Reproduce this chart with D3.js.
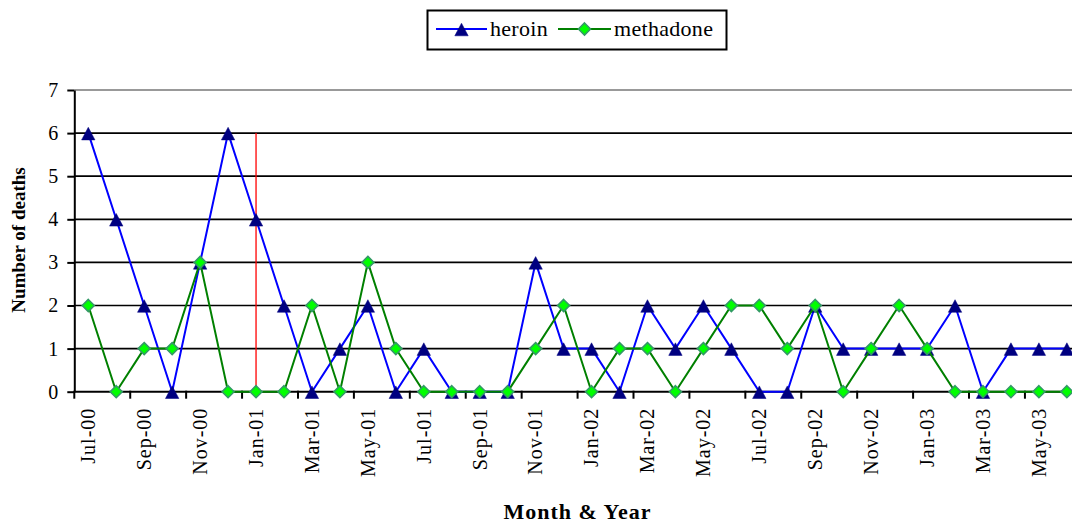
<!DOCTYPE html>
<html>
<head>
<meta charset="utf-8">
<script src="https://cdn.jsdelivr.net/npm/d3@7"></script>
<style>
  body { margin: 0; background: #fff; overflow: hidden; }
  svg { display: block; }
  svg text { font-family: "Liberation Serif", "DejaVu Serif", serif; }
</style>
</head>
<body>
<div id="chart"></div>
<script>
// data
const months = ["Jul-00","Aug-00","Sep-00","Oct-00","Nov-00","Dec-00",
  "Jan-01","Feb-01","Mar-01","Apr-01","May-01","Jun-01",
  "Jul-01","Aug-01","Sep-01","Oct-01","Nov-01","Dec-01",
  "Jan-02","Feb-02","Mar-02","Apr-02","May-02","Jun-02",
  "Jul-02","Aug-02","Sep-02","Oct-02","Nov-02","Dec-02",
  "Jan-03","Feb-03","Mar-03","Apr-03","May-03","Jun-03"];
const heroin = [6,4,2,0,3,6, 4,2,0,1,2,0, 1,0,0,0,3,1, 1,0,2,1,2,1, 0,0,2,1,1,1, 1,2,0,1,1,1];
const methadone = [2,0,1,1,3,0, 0,0,2,0,3,1, 0,0,0,0,1,2, 0,1,1,0,1,2, 2,1,2,0,1,2, 1,0,0,0,0,0];
const yTicks = [0,1,2,3,4,5,6,7];
const xLabels = months.filter(function(d,i){ return i % 2 == 0; });
const markerMonth = "Jan-01";
const markerValue = 6;

const width = 1072, height = 523;
const plotLeft = 74.3, band = 27.96, plotTop = 90, plotBottom = 391.7;
const serif = "'Liberation Serif', 'DejaVu Serif', serif";

const series = [
  {name: "heroin", values: heroin, line: "#0000ff", fill: "#000080", stroke: "#000080", shape: "tri"},
  {name: "methadone", values: methadone, line: "#008000", fill: "#00ff00", stroke: "#339966", shape: "dia"}
];

const x = d3.scaleBand()
    .domain(months)
    .range([plotLeft, plotLeft + band*months.length])
    .padding(0);

const y = d3.scaleLinear()
    .domain([0, 7])
    .range([plotBottom, plotTop]);

const cx = function(m){ return x(m) + x.bandwidth()/2; };

function markerPath(shape){
  if(shape == "tri"){
    return "M0,-5.8L6.7,6.8L-6.7,6.8Z";
  }
  return "M0,-6L6,0L0,6L-6,0Z";
}

const svg = d3.select("#chart")
    .append("svg")
    .attr("width", width)
    .attr("height", height)
    .style("font-family", serif);

// gridlines (top one is the grey plot border)
svg.append("g")
    .selectAll("line")
    .data(yTicks.filter(function(d){ return d > 0; }))
    .enter()
    .append("line")
    .attr("x1", plotLeft)
    .attr("x2", x.range()[1])
    .attr("y1", function(d){ return y(d); })
    .attr("y2", function(d){ return y(d); })
    .style("stroke", function(d){ return d == 7 ? "#999" : "#000"; })
    .style("stroke-width", function(d){ return d == 7 ? 2.2 : 1.7; });

// y axis
const yAxis = svg.append("g")
    .attr("transform", "translate(" + plotLeft + ",0)")
    .call(d3.axisLeft(y).tickValues(yTicks).tickFormat(d3.format("d"))
      .tickSize(7).tickSizeOuter(0).tickPadding(9));
yAxis.attr("font-family", null);
yAxis.select(".domain").style("stroke", "#000").style("stroke-width", 2);
yAxis.selectAll(".tick line").style("stroke", "#000").style("stroke-width", 2);
yAxis.selectAll("text")
    .style("font-family", serif)
    .style("font-size", "20px")
    .style("fill", "#000");

// x axis: labels on every second month, rotated
const xAxis = svg.append("g")
    .attr("transform", "translate(0," + plotBottom + ")")
    .call(d3.axisBottom(x).tickValues(xLabels).tickSize(0).tickSizeOuter(0));
xAxis.attr("font-family", null);
xAxis.select(".domain").remove();
xAxis.selectAll("text")
    .attr("transform", "rotate(-90)")
    .attr("x", -16)
    .attr("y", 0)
    .attr("dy", "0.34em")
    .style("text-anchor", "end")
    .style("font-family", serif)
    .style("font-size", "20px")
    .style("letter-spacing", "1px")
    .style("fill", "#000");

svg.append("line")
    .attr("x1", plotLeft)
    .attr("x2", x.range()[1])
    .attr("y1", plotBottom)
    .attr("y2", plotBottom)
    .style("stroke", "#000")
    .style("stroke-width", 2);

// tick marks sit between categories
svg.append("g")
    .selectAll("line")
    .data(xLabels)
    .enter()
    .append("line")
    .attr("x1", function(d){ return x(d); })
    .attr("x2", function(d){ return x(d); })
    .attr("y1", plotBottom - 1)
    .attr("y2", plotBottom + 7)
    .style("stroke", "#000")
    .style("stroke-width", 2);

// red marker line
svg.append("line")
    .attr("x1", cx(markerMonth))
    .attr("x2", cx(markerMonth))
    .attr("y1", y(markerValue))
    .attr("y2", y(0))
    .style("stroke", "#ff0000")
    .style("stroke-width", 1.3);

// series
series.forEach(function(s){
  const pts = months.map(function(m,i){ return [cx(m), y(s.values[i])]; });

  svg.append("path")
      .datum(pts)
      .attr("d", d3.line())
      .style("fill", "none")
      .style("stroke", s.line)
      .style("stroke-width", 2);

  svg.append("g")
      .selectAll("path")
      .data(pts)
      .enter()
      .append("path")
      .attr("transform", function(d){ return "translate(" + d[0] + "," + d[1] + ")"; })
      .attr("d", markerPath(s.shape))
      .style("fill", s.fill)
      .style("stroke", s.stroke)
      .style("stroke-width", s.shape == "dia" ? 1.6 : 0.5);
});

// axis titles
svg.append("text")
    .attr("transform", "translate(25,240) rotate(-90)")
    .style("text-anchor", "middle")
    .style("font-weight", "bold")
    .style("font-size", "19px")
    .text("Number of deaths");

svg.append("text")
    .attr("x", (x.range()[0] + x.range()[1])/2)
    .attr("y", 519)
    .style("text-anchor", "middle")
    .style("font-weight", "bold")
    .style("font-size", "22px")
    .style("letter-spacing", "1px")
    .text("Month & Year");

// legend
const legend = svg.append("g");
legend.append("rect")
    .attr("x", 427.5)
    .attr("y", 10.5)
    .attr("width", 299)
    .attr("height", 39)
    .style("fill", "#fff")
    .style("stroke", "#000")
    .style("stroke-width", 2);

const legendX = [436, 558];
const items = legend.selectAll("g.item")
    .data(series)
    .enter()
    .append("g")
    .attr("class", "item")
    .attr("transform", function(d,i){ return "translate(" + legendX[i] + ",29)"; });

items.append("line")
    .attr("x1", 0)
    .attr("x2", function(d){ return d.shape == "tri" ? 51 : 53; })
    .style("stroke", function(d){ return d.line; })
    .style("stroke-width", 2);

items.append("path")
    .attr("transform", function(d){ return "translate(" + (d.shape == "tri" ? 25.5 : 26.5) + ",0)"; })
    .attr("d", function(d){ return markerPath(d.shape); })
    .style("fill", function(d){ return d.fill; })
    .style("stroke", function(d){ return d.stroke; })
    .style("stroke-width", function(d){ return d.shape == "dia" ? 1.6 : 0.5; });

items.append("text")
    .attr("x", function(d){ return d.shape == "tri" ? 54 : 56; })
    .attr("y", 7)
    .style("font-size", "22px")
    .style("letter-spacing", "0.3px")
    .text(function(d){ return d.name; });
</script>
</body>
</html>
